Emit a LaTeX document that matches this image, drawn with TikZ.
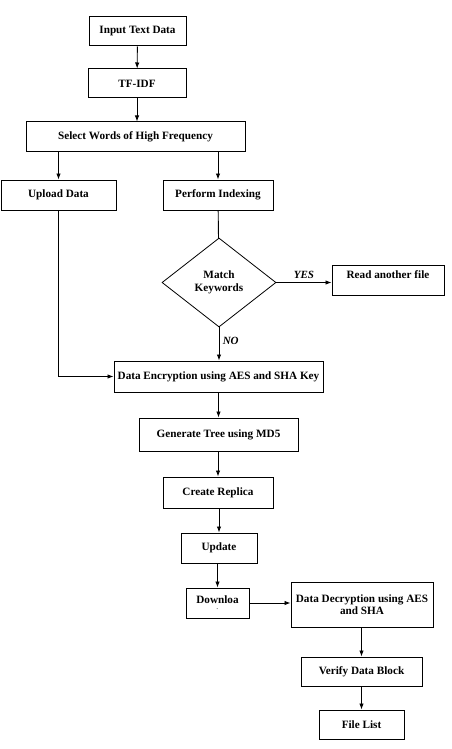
\documentclass[tikz,border=0pt]{standalone}
\usepackage{fontspec}
\setmainfont{Liberation Serif}
\usetikzlibrary{arrows.meta,shapes.geometric}

\begin{document}
\begin{tikzpicture}[x=1pt,y=-1pt,
  box/.style={draw,line width=1pt,inner sep=0pt,font=\bfseries\fontsize{11.2}{12.5}\selectfont,align=center},
  decision/.style={diamond,draw,line width=0.8pt,inner sep=0pt,font=\bfseries\fontsize{11.2}{12.5}\selectfont,align=center},
  arr/.style={line width=0.9pt,-{Latex[length=6pt,width=4.5pt]}},
  lbl/.style={font=\bfseries\itshape\fontsize{11}{12}\selectfont}]
\useasboundingbox (0,0) rectangle (451,749);
% top part
\node[box,minimum width=97pt,minimum height=29pt] (input) at (137.5,31.5) {Input Text Data};
\node[box,minimum width=98pt,minimum height=29pt] (tfidf) at (137,83.5) {TF-IDF};
\node[box,minimum width=219pt,minimum height=29pt] (select) at (135.5,136.5) {Select Words of High Frequency};
\node[box,minimum width=115pt,minimum height=30pt] (upload) at (58.5,195) {Upload Data};
\node[box,minimum width=110pt,minimum height=30pt] (index) at (218,195) {Perform Indexing};
\node[decision,minimum width=114pt,minimum height=89pt] (match) at (219,282.5) {Match\\Keywords};
\node[box,minimum width=112pt,minimum height=30pt,text depth=10pt] (readf) at (388,280) {Read another file};
% middle part
\node[box,minimum width=209pt,minimum height=31pt] (enc) at (218.5,376.5) {Data Encryption using AES and SHA Key};
\node[box,minimum width=159pt,minimum height=33pt] (tree) at (218.5,434.5) {Generate Tree using MD5};
\node[box,minimum width=110pt,minimum height=31pt] (replica) at (218,492.5) {Create Replica};
\node[box,minimum width=76pt,minimum height=30pt] (update) at (219,548) {Update};
% bottom part
\node[box,minimum width=63pt,minimum height=30pt] (down) at (217.5,603) {Downloa\\[-6pt]{\tiny -}};
\node[box,minimum width=142pt,minimum height=45pt] (dec) at (362,604.5) {Data Decryption using AES\\and SHA};
\node[box,minimum width=121pt,minimum height=29pt] (verify) at (361.5,671.5) {Verify Data Block};
\node[box,minimum width=85pt,minimum height=29pt] (flist) at (361.5,724.5) {File List};

\draw[arr] (input) -- (tfidf);
\draw[arr] (tfidf.south) -- (tfidf.south |- select.north);
\draw[arr] (upload.north |- select.south) -- (upload.north);
\draw[arr] (index.north |- select.south) -- (index.north);
\draw[line width=0.9pt] (index) -- (match);
\draw[arr] (match.east) -- node[lbl,above] {YES} (match.east -| readf.west);
\draw[arr] (match.south) -- node[lbl,right,pos=0.4] {NO} (match.south |- enc.north);
\draw[arr] (upload.south) |- (enc.west);
\draw[arr] (enc.south -| tree.north) -- (tree.north);
\draw[arr] (tree.south -| replica.north) -- (replica.north);
\draw[arr] (replica.south -| update.north) -- (update.north);
\draw[arr] (update.south -| down.north) -- (down.north);
\draw[arr] (down.east) -- (down.east -| dec.west);
\draw[arr] (dec.south -| verify.north) -- (verify.north);
\draw[arr] (verify) -- (flist);
\end{tikzpicture}
\end{document}
